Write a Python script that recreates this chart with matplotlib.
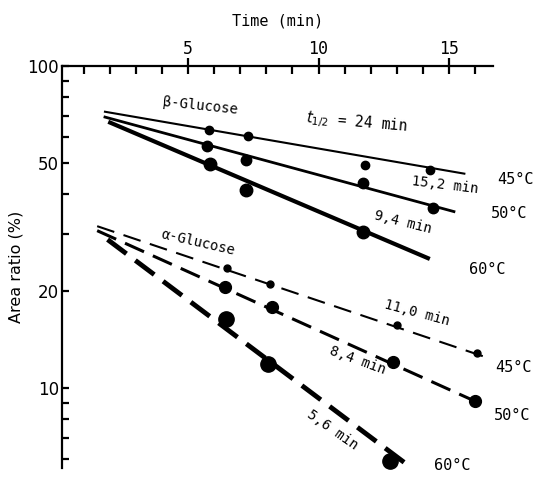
import matplotlib
matplotlib.use("Agg")
import matplotlib.pyplot as plt

plt.rcParams['font.family'] = ['DejaVu Sans Mono', 'DejaVu Sans']
plt.rcParams['lines.scale_dashes'] = False

# beta-glucose, measured points (time in min, area ratio in %)
b45_t = [5.8, 7.3, 11.8, 14.3]
b45_y = [63.2, 60.7, 49.3, 47.6]
b50_t = [5.7, 7.2, 11.7, 14.4]
b50_y = [56.6, 51.2, 43.2, 36.1]
b60_t = [5.85, 7.2, 11.7]
b60_y = [49.7, 41.2, 30.5]

# alpha-glucose, measured points
a45_t = [6.5, 8.15, 13.0, 16.1]
a45_y = [23.6, 21.1, 15.7, 12.8]
a50_t = [6.4, 8.2, 12.85, 16.0]
a50_y = [20.6, 17.9, 12.0, 9.1]
a60_t = [6.45, 8.05, 12.75]
a60_y = [16.4, 11.9, 5.94]

# fitted lines (start, end)
b45_line_t = [1.8, 15.6]
b45_line_y = [72.1, 46.3]
b50_line_t = [1.8, 15.2]
b50_line_y = [69.4, 35.3]
b60_line_t = [2.0, 14.2]
b60_line_y = [66.7, 25.3]
a45_line_t = [1.5, 16.5]
a45_line_y = [31.8, 12.4]
a50_line_t = [1.5, 16.4]
a50_line_y = [30.8, 8.8]
a60_line_t = [1.9, 13.5]
a60_line_y = [28.9, 5.7]

y_major = [10, 20, 50, 100]
y_minor = [6, 7, 8, 9, 30, 40, 60, 70, 80, 90]
x_major = [5, 10, 15]
x_minor = [1, 2, 3, 4, 6, 7, 8, 9, 11, 12, 13, 14, 16]

W, H = 541, 478
fig = plt.figure(figsize=(W / 100, H / 100), dpi=100)
ax = fig.add_axes([62 / W, 1 - 468 / H, (493 - 62) / W, (468 - 66) / H])

# solid lines (beta)
ax.plot(b45_line_t, b45_line_y, color='k', lw=1.5, clip_on=False)
ax.plot(b50_line_t, b50_line_y, color='k', lw=2.0, clip_on=False)
ax.plot(b60_line_t, b60_line_y, color='k', lw=3.0, clip_on=False)
ax.plot(b45_t, b45_y, 'o', color='k', ms=6, clip_on=False)
ax.plot(b50_t, b50_y, 'o', color='k', ms=7.5, clip_on=False)
ax.plot(b60_t, b60_y, 'o', color='k', ms=9, clip_on=False)

# dashed lines (alpha)
ax.plot(a45_line_t, a45_line_y, color='k', lw=1.5, dashes=(13, 7), clip_on=False)
ax.plot(a50_line_t, a50_line_y, color='k', lw=2.2, dashes=(15, 7), clip_on=False)
ax.plot(a60_line_t, a60_line_y, color='k', lw=3.5, dashes=(17, 8), clip_on=False)
ax.plot(a45_t, a45_y, 'o', color='k', ms=5, clip_on=False)
ax.plot(a50_t, a50_y, 'o', color='k', ms=8.5, clip_on=False)
ax.plot(a60_t, a60_y, 'o', color='k', ms=11, clip_on=False)

ax.set_yscale('log')
ax.set_xlim(0.15, 16.7)
ax.set_ylim(5.64, 100)
ax.set_yticks(y_major)
ax.set_yticklabels([str(v) for v in y_major], family='DejaVu Sans')
ax.set_yticks(y_minor, minor=True)
ax.set_yticklabels([], minor=True)
ax.set_xticks(x_major)
ax.set_xticks(x_minor, minor=True)

ax.xaxis.tick_top()
ax.xaxis.set_label_position('top')
for s in ['bottom', 'right']:
    ax.spines[s].set_visible(False)
for s in ['top', 'left']:
    ax.spines[s].set_linewidth(1.6)

ax.tick_params(axis='x', which='major', direction='inout', length=12, width=1.6,
               labelsize=12, pad=0)
ax.tick_params(axis='x', which='minor', direction='in', length=6, width=1.6)
ax.tick_params(axis='y', which='both', direction='in', length=5, width=1.6,
               labelsize=12, pad=2)

ax.set_xlabel('Time (min)', fontsize=11, labelpad=10)
ax.set_ylabel('Area ratio (%)', fontsize=11.5, family='DejaVu Sans', labelpad=3)


def label(px, py, s, rot=0, size=10, **kw):
    fig.text(px / W, 1 - py / H, s, rotation=rot, fontsize=size,
             ha='center', va='center', rotation_mode='anchor', **kw)


label(200, 106, 'β-Glucose', rot=-6, size=10)
label(357, 122, r'$t_{1/2}$ = 24 min', rot=-5, size=10.5)
label(445, 185, '15,2 min', rot=-7, size=10)
label(403, 222, '9,4 min', rot=-14, size=10)
label(198, 243, 'α-Glucose', rot=-13, size=10)
label(417, 313, '11,0 min', rot=-15, size=10)
label(358, 360, '8,4 min', rot=-20, size=10)
label(332, 430, '5,6 min', rot=-35, size=10)

label(515, 180, '45°C', size=11)
label(509, 213, '50°C', size=11)
label(487, 270, '60°C', size=11)
label(513, 368, '45°C', size=11)
label(512, 415, '50°C', size=11)
label(452, 466, '60°C', size=11)

fig.savefig('out.png', dpi=100)
